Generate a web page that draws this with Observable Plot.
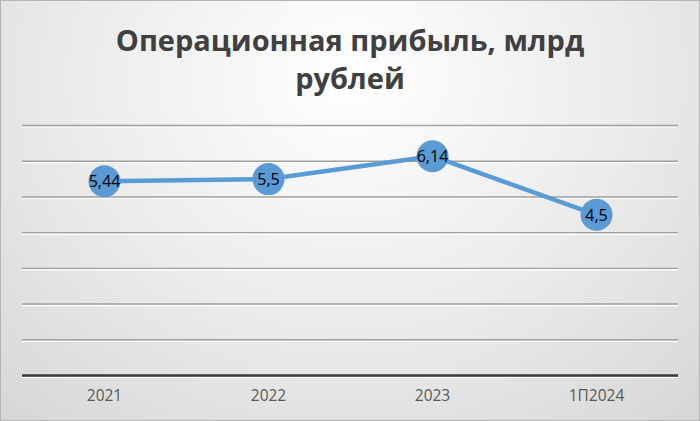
<!DOCTYPE html>
<html>
<head>
<meta charset="utf-8">
<script src="https://cdn.jsdelivr.net/npm/d3@7"></script>
<script src="https://cdn.jsdelivr.net/npm/@observablehq/plot@0.6"></script>
<style>
  html, body { margin: 0; padding: 0; }
  #frame {
    position: relative;
    width: 700px;
    height: 421px;
    box-sizing: border-box;
    border: 1px solid #b4b4b4;
    background: radial-gradient(ellipse 80% 120% at 50% 18%, #ffffff 0%, #ebebeb 50%, #d3d3d3 100%);
    overflow: hidden;
  }
  #title {
    height: 109px;
    box-sizing: border-box;
    padding-top: 20px;
    text-align: center;
    font-family: "Open Sans", sans-serif;
    font-weight: 700;
    font-size: 29px;
    line-height: 38px;
    color: #404040;
  }
  #chart svg { display: block; background: transparent; }
</style>
</head>
<body>
<div id="frame">
  <div id="title">Операционная прибыль, млрд<br>рублей</div>
  <div id="chart"></div>
</div>
<script>
// Operating profit, billions of roubles
const periods = ["2021", "2022", "2023", "1П2024"];
const profit = [5.44, 5.5, 6.14, 4.5];
const gridValues = [1, 2, 3, 4, 5, 6, 7];

const rows = periods.map((p, i) => ({period: p, value: profit[i], label: String(profit[i]).replace(".", ",")}));

const chart = Plot.plot({
  width: 698,
  height: 310,
  marginTop: 15,
  marginBottom: 45,
  marginLeft: 21,
  marginRight: 21,
  style: {background: "transparent", fontFamily: "Open Sans, sans-serif"},
  x: {type: "point", domain: periods, padding: 0.5, label: null},
  y: {domain: [0, 7], axis: null},
  marks: [
    Plot.ruleY(gridValues, {stroke: "#ffffff", strokeWidth: 1.2, dy: 1.5}),
    Plot.ruleY(gridValues, {stroke: "#a0a0a0", strokeWidth: 1.4}),
    Plot.ruleY([0], {stroke: "#ffffff", strokeWidth: 1.2, dy: 2}),
    Plot.ruleY([0], {stroke: "#3a3a3a", strokeWidth: 2.6}),
    Plot.axisX({tickSize: 0, tickPadding: 14, fontSize: 15.5, fill: "#595959", label: null}),
    Plot.line(rows, {x: "period", y: "value", stroke: "#5b9bd5", strokeWidth: 4.5}),
    Plot.dot(rows, {x: "period", y: "value", r: 16, fill: "#5b9bd5", stroke: "none"}),
    Plot.text(rows, {x: "period", y: "value", text: "label", fontSize: 16, fill: "#000000", dy: 1})
  ]
});
document.getElementById("chart").appendChild(chart);
</script>
</body>
</html>
